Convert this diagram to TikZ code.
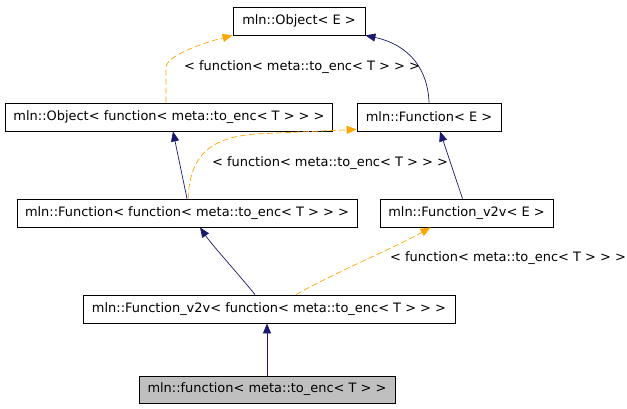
\documentclass[tikz,border=0pt]{standalone}
\usepackage{fontspec}
\setmainfont{DejaVu Sans}
\usepackage{xcolor}
\usepackage{tikz}
\usetikzlibrary{arrows.meta}
\definecolor{edgeNavy}{HTML}{191970}
\definecolor{edgeOrange}{HTML}{FFA500}
\definecolor{boxGray}{HTML}{BFBFBF}
\newcommand{\encArg}{< function< meta::to\_enc< T > > >}
\tikzset{
  classBox/.style={
    rectangle,
    draw=black,
    fill=white,
    line width=0.8bp,
    minimum height=28bp,
    inner sep=0pt,
    font=\fontsize{13}{15}\selectfont
  },
  inheritLine/.style={
    -{Triangle[length=10bp,width=8bp]},
    draw=edgeNavy,
    line width=0.7bp
  },
  templateLine/.style={
    -{Triangle[length=10bp,width=8bp]},
    draw=edgeOrange,
    line width=0.7bp,
    dash pattern=on 6bp off 3bp
  },
  edgeLabel/.style={
    inner sep=0pt,
    font=\fontsize{13}{15}\selectfont
  }
}

\begin{document}
\begin{tikzpicture}[x=1bp,y=-1bp]
        \fill[white] (0,0) rectangle (627,408);
        \useasboundingbox (0,0) rectangle (627,408);

        \node[classBox, minimum width=132bp] (objE) at (299,21) {mln::Object< E >};
        \node[classBox, minimum width=327bp] (objFn) at (169,117) {mln::Object\encArg};
        \node[classBox, minimum width=144bp] (funE) at (429,117) {mln::Function< E >};
        \node[classBox, minimum width=340bp] (funFn) at (187,213) {mln::Function\encArg};
        \node[classBox, minimum width=173bp] (vtvE) at (466.5,213) {mln::Function\_v2v< E >};
        \node[classBox, minimum width=372bp] (vtvFn) at (269,309) {mln::Function\_v2v\encArg};
        \node[classBox, minimum width=256bp, minimum height=27bp, fill=boxGray] (fn) at (267,389.5) {mln::function< meta::to\_enc< T > >};

        \node[edgeLabel] (lblObject) at (302,67) {\encArg};
        \node[edgeLabel] (lblFunction) at (330,163) {\encArg};
        \node[edgeLabel, anchor=west] (lblVtv) at (390,258) {\encArg};

        \draw[templateLine] ([xshift=-3bp]objFn.north) -- ++(0,-35) .. controls +(0,-12) and (203,43) .. (objE.south west);
        \draw[inheritLine] (funE.north) .. controls (428,70) and (410,45) .. (objE.south east);
        \draw[inheritLine] (funFn.north) -- ([xshift=4bp]objFn.south);
        \draw[templateLine] ([xshift=1bp]funFn.north) .. controls (190,160) and (205,138) .. (255,134) -- ([yshift=2bp]funE.south west);
        \draw[inheritLine] ([xshift=-4bp]vtvE.north) -- ([xshift=11bp]funE.south);
        \draw[inheritLine] ([xshift=-14bp]vtvFn.north) .. controls (235,270) and (212,245) .. ([xshift=13bp]funFn.south);
        \draw[templateLine] ([xshift=27bp]vtvFn.north) .. controls (330,275) and (400,245) .. ([xshift=-36bp]vtvE.south);
        \draw[inheritLine] (fn.north) -- (fn.north |- vtvFn.south);

    \end{tikzpicture}
\end{document}
